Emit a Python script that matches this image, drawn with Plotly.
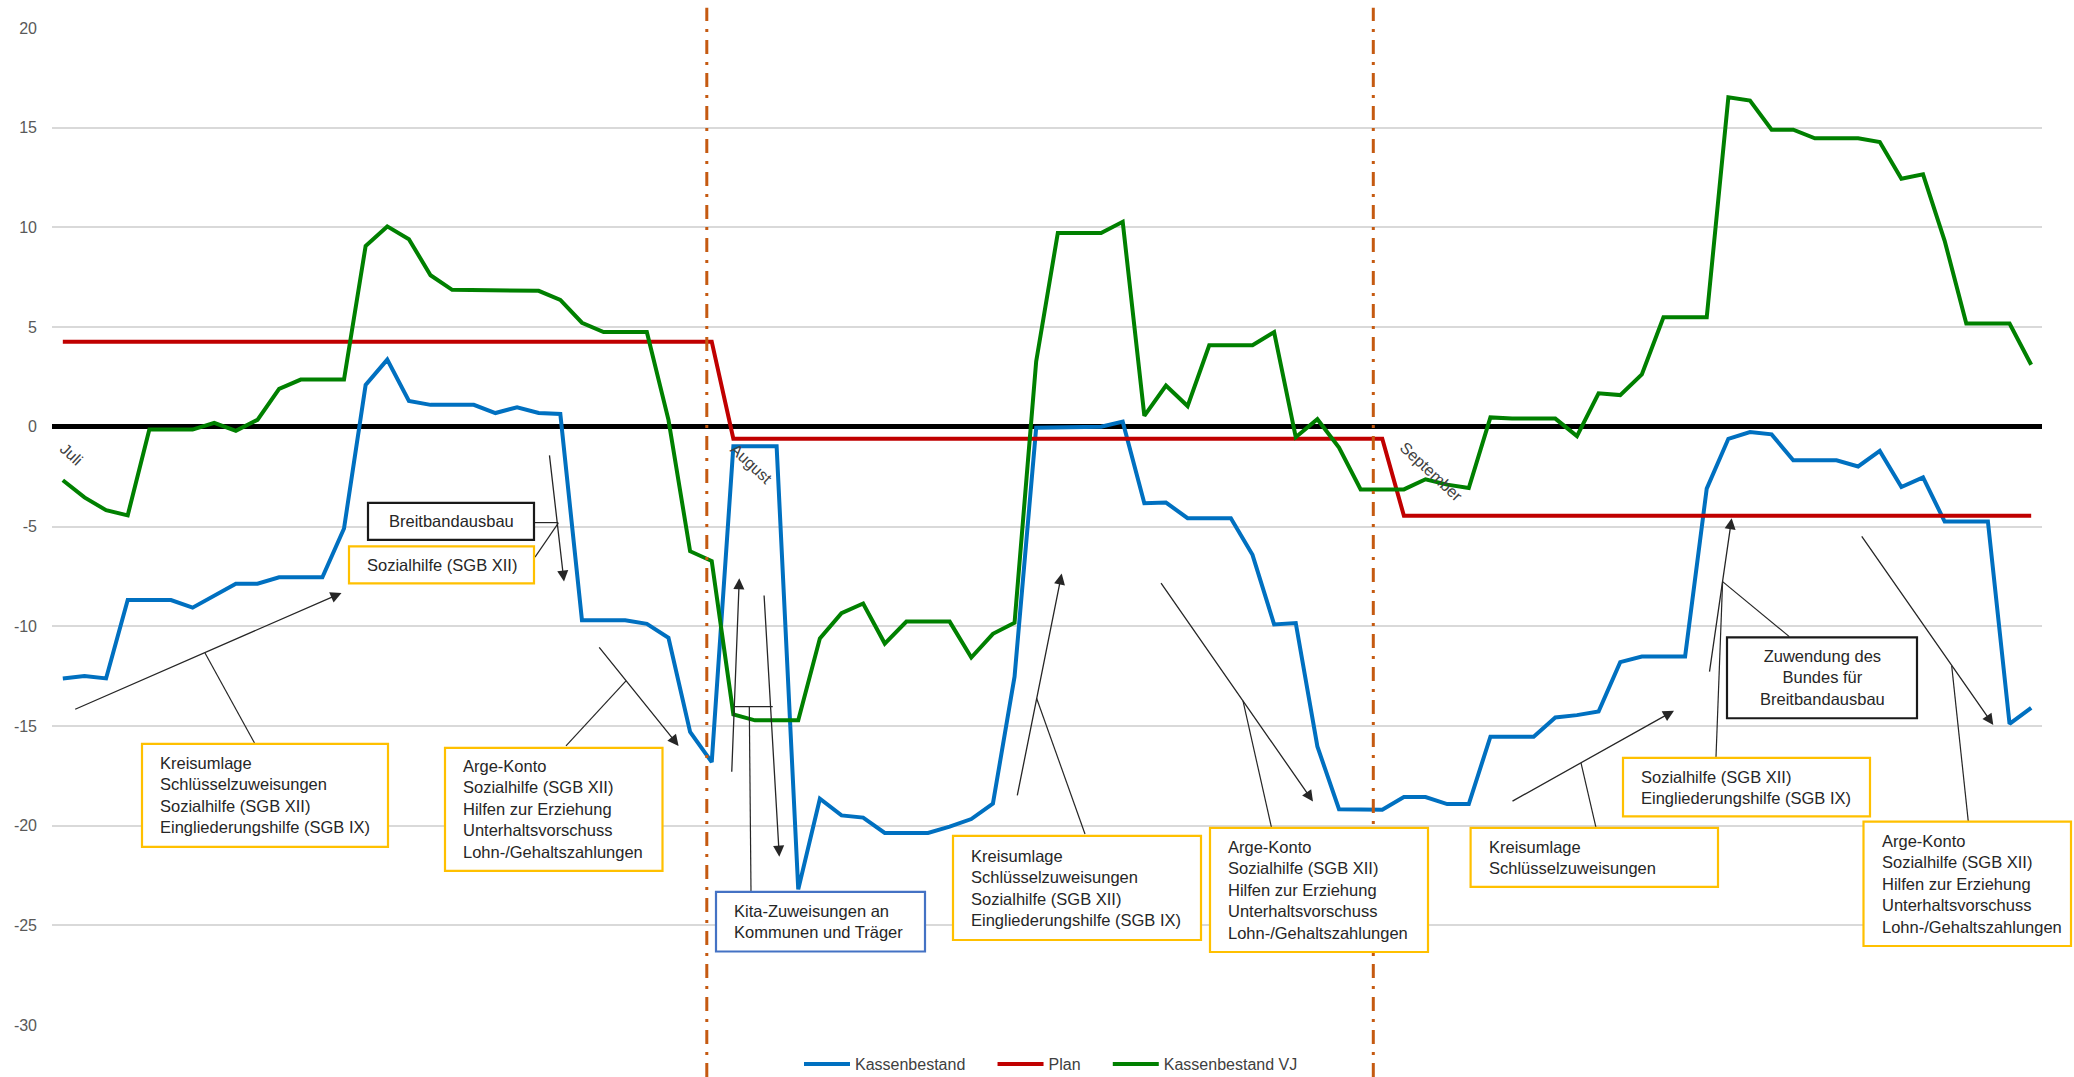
import plotly.graph_objects as go
import pandas as pd

# ---------------- data ----------------
dates = pd.date_range("2021-07-01", "2021-09-30", freq="D")
categories = [d.strftime("%d.%m.") for d in dates]

kassenbestand = [
    -12.62, -12.5, -12.62, -8.69, -8.69, -8.69, -9.07, -8.48, -7.87, -7.87,
    -7.55, -7.55, -7.55, -5.1, 2.1, 3.37, 1.3, 1.1, 1.1, 1.1,
    0.69, 0.98, 0.69, 0.64, -9.7, -9.7, -9.7, -9.88, -10.58, -15.3,
    -16.82, -0.98, -0.98, -0.98, -23.2, -18.65, -19.49, -19.6, -20.37, -20.37,
    -20.37, -20.05, -19.67, -18.9, -12.53, -0.05, -0.05, -0.05, 0.0, 0.26,
    -3.83, -3.8, -4.58, -4.58, -4.58, -6.42, -9.91, -9.84, -16.03, -19.18,
    -19.18, -19.2, -18.57, -18.57, -18.92, -18.92, -15.54, -15.54, -15.54, -14.58,
    -14.46, -14.28, -11.8, -11.52, -11.52, -11.52, -3.1, -0.6, -0.26, -0.38,
    -1.68, -1.68, -1.68, -1.99, -1.21, -3.02, -2.54, -4.75, -4.75, -4.75,
    -14.9, -14.1,
]

plan = [
    4.27, 4.27, 4.27, 4.27, 4.27, 4.27, 4.27, 4.27, 4.27, 4.27,
    4.27, 4.27, 4.27, 4.27, 4.27, 4.27, 4.27, 4.27, 4.27, 4.27,
    4.27, 4.27, 4.27, 4.27, 4.27, 4.27, 4.27, 4.27, 4.27, 4.27,
    4.27, -0.6, -0.6, -0.6, -0.6, -0.6, -0.6, -0.6, -0.6, -0.6,
    -0.6, -0.6, -0.6, -0.6, -0.6, -0.6, -0.6, -0.6, -0.6, -0.6,
    -0.6, -0.6, -0.6, -0.6, -0.6, -0.6, -0.6, -0.6, -0.6, -0.6,
    -0.6, -0.6, -4.46, -4.46, -4.46, -4.46, -4.46, -4.46, -4.46, -4.46,
    -4.46, -4.46, -4.46, -4.46, -4.46, -4.46, -4.46, -4.46, -4.46, -4.46,
    -4.46, -4.46, -4.46, -4.46, -4.46, -4.46, -4.46, -4.46, -4.46, -4.46,
    -4.46, -4.46,
]

kassenbestand_vj = [
    -2.68, -3.54, -4.18, -4.44, -0.14, -0.14, -0.14, 0.2, -0.2, 0.35,
    1.9, 2.37, 2.37, 2.37, 9.07, 10.05, 9.41, 7.6, 6.87, 6.87,
    6.86, 6.82, 6.82, 6.36, 5.22, 4.75, 4.75, 4.75, 0.35, -6.24,
    -6.73, -14.42, -14.72, -14.72, -14.72, -10.61, -9.35, -8.86, -10.87, -9.77,
    -9.77, -9.77, -11.57, -10.38, -9.83, 3.28, 9.72, 9.72, 9.72, 10.28,
    0.55, 2.07, 1.04, 4.09, 4.09, 4.09, 4.75, -0.52, 0.38, -1.04,
    -3.14, -3.14, -3.14, -2.63, -2.9, -3.07, 0.47, 0.41, 0.41, 0.41,
    -0.47, 1.68, 1.59, 2.63, 5.49, 5.49, 5.49, 16.53, 16.36, 14.9,
    14.9, 14.47, 14.47, 14.47, 14.28, 12.44, 12.66, 9.33, 5.18, 5.18,
    5.18, 3.11,
]

series_names = ["Kassenbestand", "Plan", "Kassenbestand VJ"]
y_tickvals = [20, 15, 10, 5, 0, -5, -10, -15, -20, -25, -30]
y_ticktext = ["20", "15", "10", "5", "0", "-5", "-10", "-15", "-20", "-25", "-30"]
month_labels = ["Juli", "August", "September"]

# ---------------- layout geometry (pixels) ----------------
W, H = 2074, 1077
PL, PR, PT, PB = 52, 2042, 28.2, 1025


def fx(px):
    return (px - PL) / (PR - PL)


def fy(py):
    return (PB - py) / (PB - PT)


FONT = "Arial, 'Liberation Sans', sans-serif"
GOLD = "#FFC000"
BLACK = "#1a1a1a"
BLUEBOX = "#4472C4"
TXT = "#262626"
LINEC = "#262626"

arge = "Arge-Konto<br>Sozialhilfe (SGB XII)<br>Hilfen zur Erziehung<br>Unterhaltsvorschuss<br>Lohn-/Gehaltszahlungen"
kreis4 = "Kreisumlage<br>Schlüsselzuweisungen<br>Sozialhilfe (SGB XII)<br>Eingliederungshilfe (SGB IX)"

# boxes: (x0, y0, x1, y1, border colour, text, align)
boxes = [
    (368, 503, 534, 540, BLACK, "Breitbandausbau", "center"),
    (349, 546.5, 534, 583.5, GOLD, "Sozialhilfe (SGB XII)", "left"),
    (142, 744, 388, 847, GOLD, kreis4, "left"),
    (445, 748, 662.5, 871, GOLD, arge, "left"),
    (716, 892, 925, 951.5, BLUEBOX, "Kita-Zuweisungen an<br>Kommunen und Träger", "left"),
    (953, 836, 1201, 940, GOLD, kreis4, "left"),
    (1210, 828, 1428, 952, GOLD, arge, "left"),
    (1470.6, 828, 1718, 887, GOLD, "Kreisumlage<br>Schlüsselzuweisungen", "left"),
    (1623, 758, 1870, 816.5, GOLD, "Sozialhilfe (SGB XII)<br>Eingliederungshilfe (SGB IX)", "left"),
    (1727, 637.5, 1917, 718.3, BLACK, "Zuwendung des<br>Bundes für<br>Breitbandausbau", "center"),
    (1863.5, 821.7, 2071, 946, GOLD, arge, "left"),
]

# connector lines (no arrowhead)
connectors = [
    (254.5, 743, 205, 653),
    (535, 522.7, 558.3, 522.7),
    (535, 557.3, 558.3, 523.3),
    (566, 746, 626, 681),
    (735, 706.7, 772.7, 706.7),
    (749.3, 706.7, 751, 891.7),
    (1085, 834, 1036.5, 698),
    (1271.5, 827.6, 1243, 701),
    (1596, 827.6, 1581, 763),
    (1716, 757, 1722.6, 581.7),
    (1789.3, 636.7, 1722.6, 581.7),
    (1968.3, 821.7, 1951.7, 666),
]

# arrows: (tail x, tail y, head x, head y)
arrows = [
    (73.7, 710, 341.5, 593),
    (549.3, 454, 564, 581.7),
    (598, 646, 678.6, 746),
    (731.7, 773.3, 739.3, 578.3),
    (764, 594, 779.3, 856.7),
    (1017, 797, 1061.7, 573.6),
    (1160, 581.6, 1313, 801.5),
    (1511, 802, 1674, 710.8),
    (1709.3, 673.3, 1731.7, 518.3),
    (1860.7, 535, 1993.3, 725),
]

month_label_pos = [(71.4, 454.9), (750.7, 464), (1431, 471.5)]
month_lines_px = [706.8, 1373.3]

# ---------------- figure ----------------
NBSP = "\u00a0"
legend_pad = [NBSP * 5, NBSP * 5, ""]
line_colors = ["#0070C0", "#C00000", "#008000"]
series = [kassenbestand, plan, kassenbestand_vj]

fig = go.Figure()
for name, pad, col, vals in zip(series_names, legend_pad, line_colors, series):
    fig.add_trace(go.Scatter(x=categories, y=vals, mode="lines", name=name + pad,
                             line=dict(color=col, width=4)))

shapes = []
for xp in month_lines_px:
    shapes.append(dict(type="line", xref="paper", yref="paper",
                       x0=fx(xp), x1=fx(xp), y0=fy(1077), y1=fy(8),
                       line=dict(color="#C55A11", width=3, dash="14px,8px,3px,8px"),
                       layer="above"))

for (x0, y0, x1, y1) in connectors:
    shapes.append(dict(type="line", xref="paper", yref="paper",
                       x0=fx(x0), y0=fy(y0), x1=fx(x1), y1=fy(y1),
                       line=dict(color=LINEC, width=1.2), layer="above"))

annotations = []
for (x0, y0, x1, y1, col, text, align) in boxes:
    shapes.append(dict(type="rect", xref="paper", yref="paper",
                       x0=fx(x0), y0=fy(y1), x1=fx(x1), y1=fy(y0),
                       line=dict(color=col, width=2.2), fillcolor="white", layer="above"))
    if align == "center":
        ax_, xa = (x0 + x1) / 2, "center"
    else:
        ax_, xa = x0 + 16, "left"
    annotations.append(dict(x=fx(ax_), y=fy((y0 + y1) / 2), xref="paper", yref="paper",
                            text=text, showarrow=False, xanchor=xa, yanchor="middle",
                            align=align, font=dict(family=FONT, size=16.5, color=TXT)))

for (tx, ty, hx, hy) in arrows:
    annotations.append(dict(x=fx(hx), y=fy(hy), xref="paper", yref="paper",
                            ax=tx - hx, ay=ty - hy, axref="pixel", ayref="pixel",
                            text="", showarrow=True, arrowhead=2, arrowsize=1.7,
                            arrowwidth=1.3, arrowcolor=LINEC, standoff=0))

for lab, (mx, my) in zip(month_labels, month_label_pos):
    annotations.append(dict(x=fx(mx), y=fy(my), xref="paper", yref="paper",
                            text=lab, showarrow=False, textangle=43,
                            xanchor="center", yanchor="middle",
                            font=dict(family=FONT, size=16, color="#404040")))

fig.update_layout(
    width=W, height=H,
    margin=dict(l=PL, r=W - PR, t=PT, b=H - PB, pad=0, autoexpand=False),
    paper_bgcolor="white", plot_bgcolor="white",
    font=dict(family=FONT, size=16, color="#404040"),
    showlegend=True,
    legend=dict(orientation="h", x=fx(1051), xanchor="center", y=fy(1064), yanchor="middle",
                font=dict(family=FONT, size=16, color="#404040"), itemwidth=46,
                bgcolor="rgba(0,0,0,0)"),
    shapes=shapes,
    annotations=annotations,
    xaxis=dict(type="category", range=[-0.5, 91.5], showticklabels=False, showgrid=False,
               zeroline=False, showline=False, ticks=""),
    yaxis=dict(range=[-30, 20], tickvals=y_tickvals, ticktext=y_ticktext,
               showgrid=True, gridcolor="#D9D9D9", gridwidth=1.5,
               zeroline=True, zerolinecolor="black", zerolinewidth=5,
               showline=False, ticks="", ticklabelstandoff=14,
               tickfont=dict(family=FONT, size=16, color="#595959")),
)

fig.write_html("out.html", config={"displayModeBar": False},
               post_script="document.body.style.margin='0';document.body.style.overflow='hidden';")
